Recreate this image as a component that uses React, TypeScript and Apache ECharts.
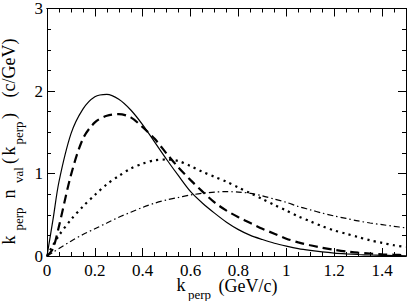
import React, { useEffect, useRef } from "react";
import * as echarts from "echarts";

const K = [0, 0.025, 0.05, 0.1, 0.15, 0.2, 0.25, 0.3, 0.35, 0.4, 0.45, 0.5, 0.55, 0.6, 0.65, 0.7, 0.75, 0.8, 0.85, 0.9, 0.95, 1.0, 1.05, 1.1, 1.15, 1.2, 1.25, 1.3, 1.35, 1.4, 1.45, 1.5];
const solidVals = [0, 0.44, 0.9, 1.48, 1.78, 1.93, 1.96, 1.9, 1.77, 1.59, 1.38, 1.17, 0.97, 0.78, 0.64, 0.52, 0.41, 0.32, 0.25, 0.2, 0.155, 0.12, 0.09, 0.068, 0.05, 0.036, 0.026, 0.018, 0.012, 0.008, 0.005, 0.003];
const dashedVals = [0, 0.09, 0.36, 0.98, 1.42, 1.62, 1.7, 1.72, 1.68, 1.56, 1.42, 1.24, 1.07, 0.92, 0.78, 0.65, 0.55, 0.47, 0.4, 0.33, 0.27, 0.21, 0.165, 0.13, 0.1, 0.075, 0.055, 0.04, 0.03, 0.02, 0.015, 0.01];
const dottedVals = [0, 0.13, 0.25, 0.44, 0.6, 0.74, 0.87, 0.97, 1.06, 1.12, 1.16, 1.17, 1.15, 1.09, 1.02, 0.96, 0.9, 0.83, 0.76, 0.69, 0.62, 0.55, 0.48, 0.42, 0.36, 0.31, 0.27, 0.23, 0.19, 0.16, 0.13, 0.11];
const dashDotVals = [0, 0.045, 0.09, 0.18, 0.26, 0.33, 0.4, 0.47, 0.53, 0.59, 0.64, 0.68, 0.71, 0.74, 0.76, 0.775, 0.78, 0.775, 0.76, 0.73, 0.69, 0.65, 0.6, 0.56, 0.52, 0.485, 0.455, 0.425, 0.4, 0.38, 0.36, 0.34];
const xTickLabels = ["0", "0.2", "0.4", "0.6", "0.8", "1", "1.2", "1.4"];
const yTickLabels = ["0", "1", "2", "3"];

const FONT = "Liberation Serif";

function pairs(vals: number[]) {
  return K.map((k, i) => [k, vals[i]]);
}

function xAxisDef(position: string, interval: number, len: number, labels: boolean) {
  return {
    type: "value",
    min: 0,
    max: 1.5,
    interval,
    position,
    axisLine: { show: true, onZero: false, lineStyle: { color: "#000", width: 1 } },
    axisTick: { show: true, inside: true, length: len, lineStyle: { color: "#000", width: 1 } },
    axisLabel: labels
      ? {
          show: true,
          showMaxLabel: false,
          margin: 6,
          fontSize: 17,
          fontFamily: FONT,
          color: "#000",
          formatter: (v: number) => {
            const i = Math.round(v / 0.2);
            return Math.abs(v - i * 0.2) < 1e-6 && i < xTickLabels.length ? xTickLabels[i] : "";
          },
        }
      : { show: false },
    splitLine: { show: false },
  };
}

function yAxisDef(position: string, labels: boolean) {
  return {
    type: "value",
    min: 0,
    max: 3,
    interval: 1,
    position,
    axisLine: { show: true, onZero: false, lineStyle: { color: "#000", width: 1 } },
    axisTick: { show: true, inside: true, length: 8, lineStyle: { color: "#000", width: 1 } },
    minorTick: { show: true, splitNumber: 4, length: 4, lineStyle: { color: "#000", width: 1 } },
    axisLabel: labels
      ? {
          show: true,
          margin: 4,
          fontSize: 17,
          fontFamily: FONT,
          color: "#000",
          formatter: (v: number) => yTickLabels[Math.round(v)] ?? "",
        }
      : { show: false },
    splitLine: { show: false },
  };
}

function txt(text: string, x: number, y: number, size: number, rot = 0) {
  return {
    type: "text",
    x,
    y,
    rotation: rot,
    silent: true,
    style: {
      text,
      fontSize: size,
      fontFamily: FONT,
      font: size + "px " + FONT,
      fill: "#000",
      align: "center",
      verticalAlign: "middle",
    },
  };
}

export default function App() {
  const ref = useRef<HTMLDivElement>(null);
  useEffect(() => {
    document.body.style.margin = "0";
    const chart = echarts.init(ref.current!, null, { renderer: "svg" });
    const R = Math.PI / 2;
    const MX = 9;
    const SX = 18;
    const lineCommon = { type: "line", showSymbol: false, smooth: 0.3 };
    chart.setOption({
      animation: false,
      backgroundColor: "#fff",
      grid: { left: 47, right: 3, top: 5, bottom: 45, containLabel: false },
      xAxis: [
        xAxisDef("bottom", 0.2, 8, true),
        xAxisDef("bottom", 0.05, 4, false),
        xAxisDef("top", 0.2, 8, false),
        xAxisDef("top", 0.05, 4, false),
      ],
      yAxis: [yAxisDef("left", true), yAxisDef("right", false)],
      series: [
        { ...lineCommon, data: pairs(solidVals), lineStyle: { color: "#000", width: 1.2, type: "solid" } },
        { ...lineCommon, data: pairs(dashedVals), lineStyle: { color: "#000", width: 2.2, type: [9, 5] } },
        { ...lineCommon, data: pairs(dottedVals), lineStyle: { color: "#000", width: 2.2, type: [2.2, 4.3] } },
        { ...lineCommon, data: pairs(dashDotVals), lineStyle: { color: "#000", width: 1.2, type: [6, 3, 1.5, 3] } },
      ],
      graphic: [
        txt("k", 181, 285, 18),
        txt("perp", 199.5, 294, 13),
        txt("(GeV/c)", 248, 286, 18),
        txt("k", MX, 240, 18, R),
        txt("perp", SX, 219, 13, R),
        txt("n", MX, 194, 18, R),
        txt("val", SX, 175, 13, R),
        txt("(", MX, 161, 18, R),
        txt("k", MX, 151, 18, R),
        txt("perp", SX, 133, 13, R),
        txt(")", MX, 116, 18, R),
        txt("(c/GeV)", MX, 68, 18, R),
      ],
    });
    return () => chart.dispose();
  }, []);
  return <div ref={ref} style={{ width: 409, height: 301 }} />;
}
